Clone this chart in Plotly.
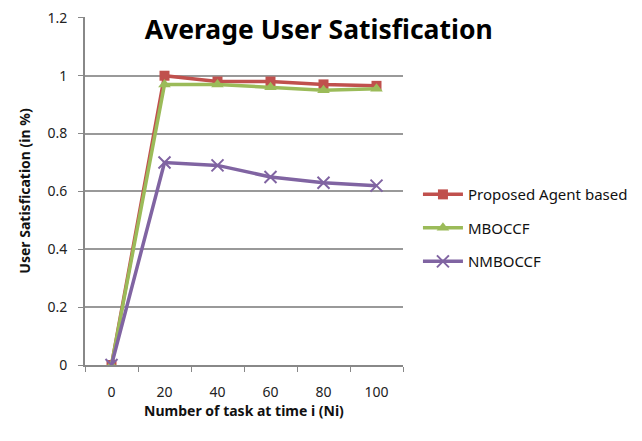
import plotly.graph_objects as go

categories = ["0", "20", "40", "60", "80", "100"]
proposed = [0, 1.0, 0.98, 0.98, 0.97, 0.965]
mboccf = [0, 0.97, 0.97, 0.96, 0.95, 0.955]
nmboccf = [0, 0.70, 0.69, 0.65, 0.63, 0.62]
y_ticks = [0, 0.2, 0.4, 0.6, 0.8, 1.0, 1.2]
y_tick_labels = ["0", "0.2", "0.4", "0.6", "0.8", "1", "1.2"]

FONT = "Noto Sans"

fig = go.Figure()
fig.add_trace(go.Scatter(
    x=categories, y=proposed, name="Proposed Agent based", mode="lines+markers",
    line=dict(color="#C0504D", width=3.5),
    marker=dict(symbol="square", size=10, color="#C0504D"),
    legendgroup="a"))
fig.add_trace(go.Scatter(
    x=categories, y=mboccf, name="MBOCCF", mode="lines+markers",
    line=dict(color="#9BBB59", width=3.5),
    marker=dict(symbol="triangle-up", size=11, color="#9BBB59"),
    legendgroup="b"))
fig.add_trace(go.Scatter(
    x=categories, y=nmboccf, name="NMBOCCF", mode="lines+markers",
    line=dict(color="#8064A2", width=3.5),
    marker=dict(symbol="x-thin-open", size=12, color="#8064A2",
                line=dict(color="#8064A2", width=2)),
    legendgroup="c"))

fig.update_layout(
    width=642, height=441,
    margin=dict(l=77, r=247, t=9, b=84, autoexpand=False),
    paper_bgcolor="white", plot_bgcolor="white",
    font=dict(family=FONT, size=13, color="#222"),
    title=dict(text="<b>Average User Satisfication</b>", xref="container", yref="container",
               x=0.484, y=0.950, xanchor="center", yanchor="middle",
               font=dict(family=FONT, size=26.5, color="black"), automargin=False),
    showlegend=True,
    legend=dict(x=1.047, y=0.537, xanchor="left", yanchor="top",
                font=dict(family=FONT, size=15, color="#111"),
                tracegroupgap=11, traceorder="grouped", itemwidth=40),
    xaxis=dict(type="category", range=[-0.5, 5.5], tickson="boundaries",
               ticks="outside", ticklen=5, tickcolor="#888", showgrid=False,
               showline=True, linecolor="#888", linewidth=2, automargin=False,
               tickfont=dict(size=14, color="#222"), ticklabelstandoff=13,
               title=dict(text="<b>Number of task at time i (Ni)</b>",
                          font=dict(size=14, color="#111"), standoff=4)),
    yaxis=dict(range=[0, 1.203], tickvals=y_ticks, ticktext=y_tick_labels,
               ticks="outside", ticklen=5, tickcolor="#888",
               showgrid=True, gridcolor="#999", gridwidth=1.5, automargin=False,
               showline=True, linecolor="#888", linewidth=2, zeroline=False,
               ticklabeloverflow="allow",
               tickfont=dict(size=14, color="#222"), ticklabelstandoff=8,
               title=dict(text="<b>User Satisfication (in %)</b>",
                          font=dict(size=14, color="#111"), standoff=14)),
)

fig.write_html("out.html")
